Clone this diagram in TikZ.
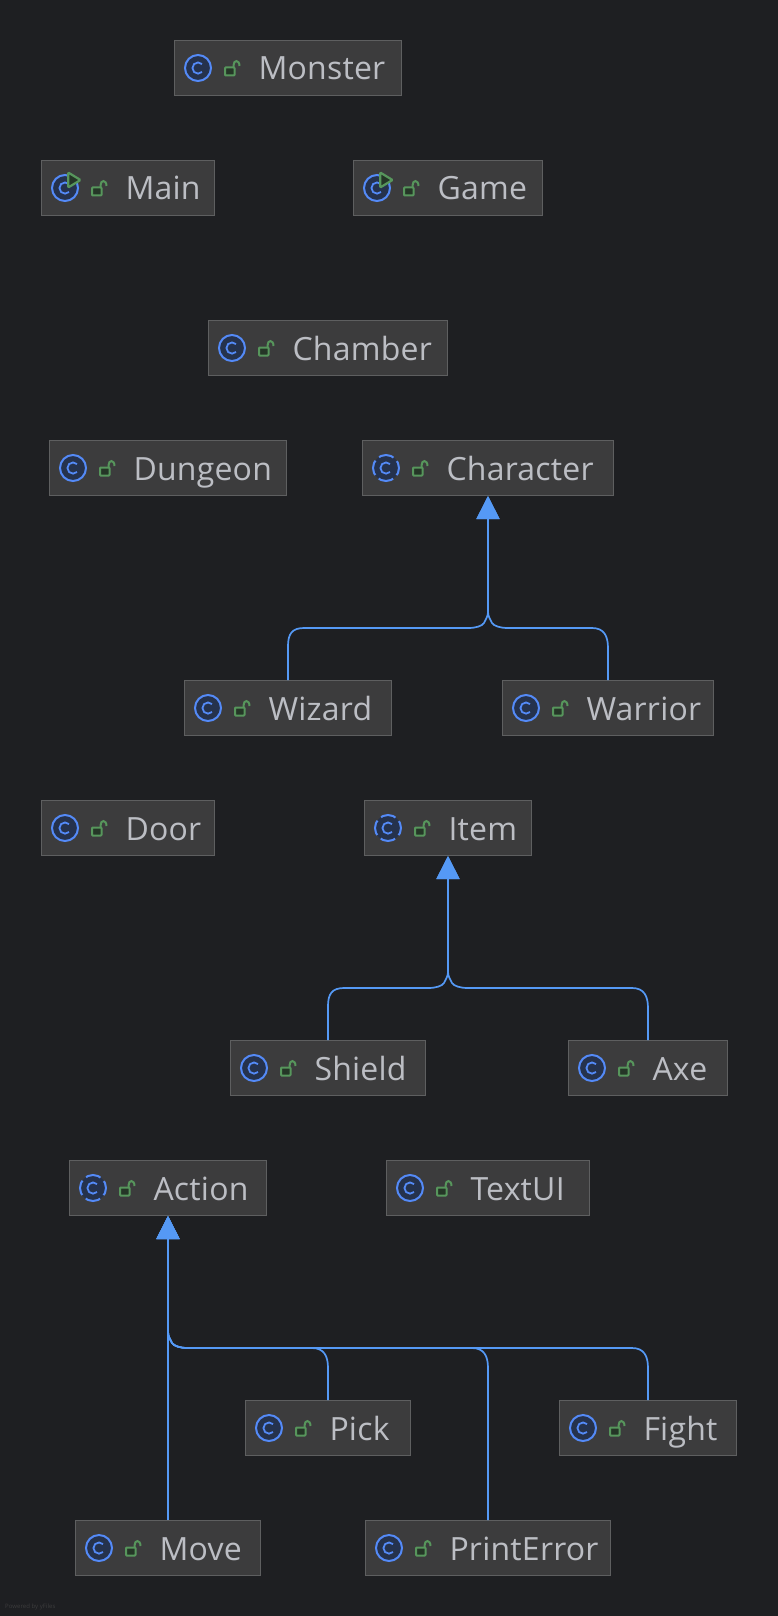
\documentclass[tikz,border=0pt]{standalone}
\usepackage{fontspec}
\setmainfont[LetterSpace=0.7]{Open Sans}
\usetikzlibrary{arrows.meta}
\definecolor{canvas}{HTML}{1E1F22}
\definecolor{boxfill}{HTML}{3C3C3D}
\definecolor{boxline}{HTML}{5E5F60}
\definecolor{labeltext}{HTML}{BCBEC4}
\definecolor{edgeblue}{HTML}{5599F5}
\definecolor{iconblue}{HTML}{548AF7}
\definecolor{icondark}{HTML}{25324D}
\definecolor{lockgreen}{HTML}{57965C}
\definecolor{lockdark}{HTML}{253627}
\tikzset{
  classbox/.style={rectangle,draw=boxline,fill=boxfill,line width=1pt,
    minimum width=#1,text width=#1,inner xsep=0pt,inner ysep=0pt,minimum height=55pt,
    align=left,text=labeltext,font=\fontsize{32}{38}\selectfont,
    text height=30pt,text depth=6pt,
    execute at begin node=\hspace*{84pt}},
  extends/.style={-{Triangle[length=23pt,width=23pt]},line width=1.7pt,draw=edgeblue},
  credit/.style={text=boxfill,font=\fontsize{6}{7}\selectfont,inner sep=0pt,anchor=west},
  lock/.pic={
    \draw[lockgreen,fill=lockdark,line width=2pt,rounded corners=0.8pt] (51,-0.5) rectangle (60.5,7.5);
    \draw[lockgreen,line width=2pt] (59.5,-0.5) -- (59.5,-2.5) .. controls (59.5,-8.5) and (65.5,-8.5) .. (65.5,-2);
  },
  cmark/.pic={
    \draw[iconblue,line width=1.8pt] (28,4) arc[start angle=45,end angle=315,radius=5.6];
  },
  plainclass/.pic={
    \draw[iconblue,fill=icondark,line width=2pt] (24,0) circle[radius=13];
    \pic {cmark};
    \pic {lock};
  },
  abstractclass/.pic={
    \fill[icondark] (24,0) circle[radius=13];
    \draw[iconblue,line width=2pt,dash pattern=on 15.4pt off 5pt,dash phase=7.7pt] (24,0) circle[radius=13];
    \pic {cmark};
    \pic {lock};
  },
  runclass/.pic={
    \draw[iconblue,fill=icondark,line width=2pt] (24,0) circle[radius=13];
    \pic {cmark};
    \draw[lockgreen,fill=lockdark,line width=2.2pt,rounded corners=1pt] (27.2,-15.5) -- (39.5,-8) -- (27.2,-0.5) -- cycle;
    \pic {lock};
  }
}

\begin{document}
\begin{tikzpicture}[x=1pt,y=-1pt]
\fill[canvas] (0,0) rectangle (778,1616);

\node[classbox=227pt] (monster) at (288,68) {Monster};
\node[classbox=173pt] (main) at (128,188) {Main};
\node[classbox=189pt] (game) at (448,188) {Game};
\node[classbox=239pt] (chamber) at (328,348) {Chamber};
\node[classbox=237pt] (dungeon) at (168,468) {Dungeon};
\node[classbox=251pt] (character) at (488,468) {Character};
\node[classbox=207pt] (wizard) at (288,708) {Wizard};
\node[classbox=211pt] (warrior) at (608,708) {Warrior};
\node[classbox=173pt] (door) at (128,828) {Door};
\node[classbox=167pt] (item) at (448,828) {Item};
\node[classbox=195pt] (shield) at (328,1068) {Shield};
\node[classbox=159pt] (axe) at (648,1068) {Axe};
\node[classbox=197pt] (action) at (168,1188) {Action};
\node[classbox=203pt] (textui) at (488,1188) {TextUI};
\node[classbox=165pt] (pick) at (328,1428) {Pick};
\node[classbox=177pt] (fight) at (648,1428) {Fight};
\node[classbox=185pt] (move) at (168,1548) {Move};
\node[classbox=245pt] (printerror) at (488,1548) {PrintError};
\node[credit] (poweredby) at (5,1607) {Powered by yFiles};

\pic at (monster.west) {plainclass};
\pic at (main.west) {runclass};
\pic at (game.west) {runclass};
\pic at (chamber.west) {plainclass};
\pic at (dungeon.west) {plainclass};
\pic at (character.west) {abstractclass};
\pic at (wizard.west) {plainclass};
\pic at (warrior.west) {plainclass};
\pic at (door.west) {plainclass};
\pic at (item.west) {abstractclass};
\pic at (shield.west) {plainclass};
\pic at (axe.west) {plainclass};
\pic at (action.west) {abstractclass};
\pic at (textui.west) {plainclass};
\pic at (pick.west) {plainclass};
\pic at (fight.west) {plainclass};
\pic at (move.west) {plainclass};
\pic at (printerror.west) {plainclass};

\draw[extends] (wizard.north) -- (288,646) .. controls (288,634) and (292,628) .. (304,628) -- (468,628)
  .. controls (476,628) and (482,626) .. (484,623) .. controls (486,619) and (488,616) .. (488,612) -- (character.south);
\draw[extends] (warrior.north) -- (608,648) .. controls (608,636) and (604,628) .. (592,628) -- (508,628)
  .. controls (500,628) and (494,626) .. (492,623) .. controls (490,619) and (488,616) .. (488,612) -- (character.south);

\draw[extends] (shield.north) -- (328,1006) .. controls (328,994) and (332,988) .. (344,988) -- (428,988)
  .. controls (436,988) and (442,986) .. (444,983) .. controls (446,979) and (448,976) .. (448,972) -- (item.south);
\draw[extends] (axe.north) -- (648,1008) .. controls (648,996) and (644,988) .. (632,988) -- (468,988)
  .. controls (460,988) and (454,986) .. (452,983) .. controls (450,979) and (448,976) .. (448,972) -- (item.south);

\draw[extends] (move.north) -- (action.south);
\draw[extends] (pick.north) -- (328,1368) .. controls (328,1356) and (324,1348) .. (312,1348) -- (188,1348)
  .. controls (180,1348) and (174,1346) .. (172,1343) .. controls (170,1339) and (168,1336) .. (168,1332) -- (action.south);
\draw[extends] (printerror.north) -- (488,1368) .. controls (488,1356) and (484,1348) .. (472,1348) -- (188,1348)
  .. controls (180,1348) and (174,1346) .. (172,1343) .. controls (170,1339) and (168,1336) .. (168,1332) -- (action.south);
\draw[extends] (fight.north) -- (648,1368) .. controls (648,1356) and (644,1348) .. (632,1348) -- (188,1348)
  .. controls (180,1348) and (174,1346) .. (172,1343) .. controls (170,1339) and (168,1336) .. (168,1332) -- (action.south);
\end{tikzpicture}
\end{document}
